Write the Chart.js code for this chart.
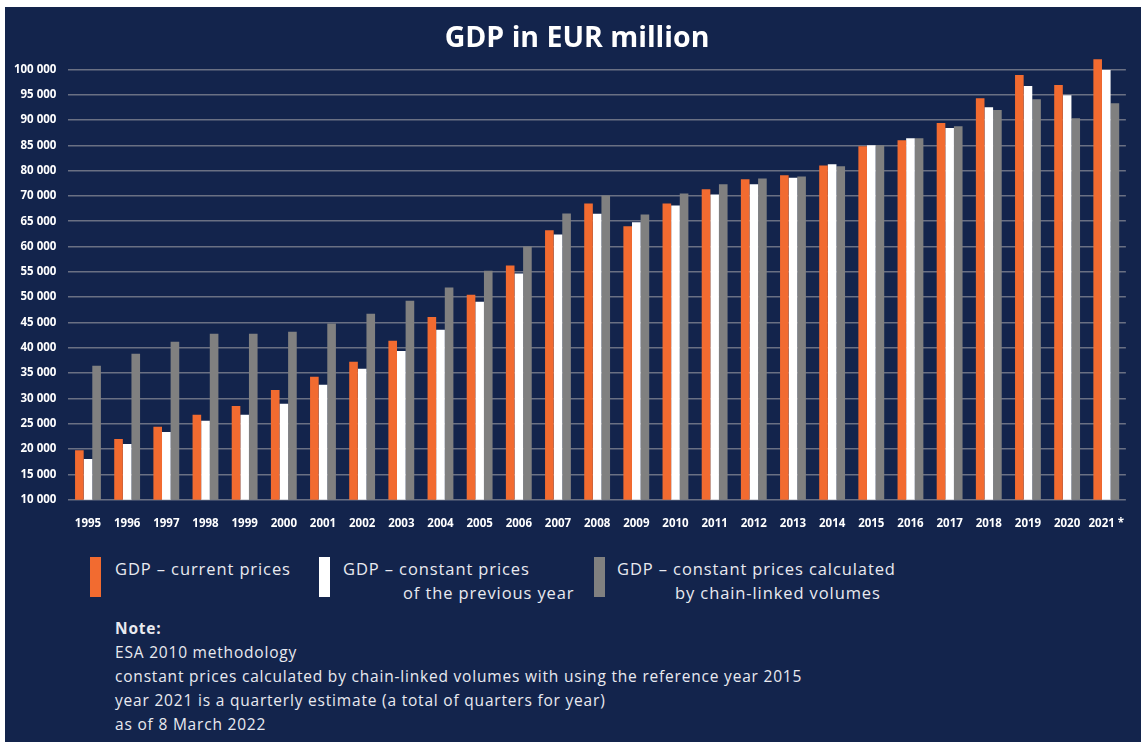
<!DOCTYPE html>
<html>
<head>
<meta charset="utf-8">
<script src="https://cdn.jsdelivr.net/npm/chart.js@4.4.1/dist/chart.umd.min.js"></script>
<style>
  html, body { margin: 0; padding: 0; background: #ffffff; }
  body { width: 1141px; height: 742px; position: relative; overflow: hidden; font-family: "Open Sans", sans-serif; }
  #panel { position: absolute; left: 5px; top: 7px; width: 1136px; height: 735px; background: #13244c; }
  #chartBox { position: absolute; left: 0; top: 0; width: 1136px; height: 548px; }
  #title { position: absolute; left: 572px; top: 12px; transform: translateX(-50%); color: #ffffff; font-size: 28.5px; font-weight: 700; line-height: 34px; white-space: nowrap; }
  .sw { position: absolute; width: 11px; height: 40px; top: 550px; }
  .lg { position: absolute; color: #e9eaf0; font-size: 16.5px; line-height: 20px; letter-spacing: 0.9px; white-space: nowrap; }
  .nt { position: absolute; left: 110px; color: #e9eaf0; font-size: 15.5px; line-height: 20px; letter-spacing: 0.8px; white-space: nowrap; }
</style>
</head>
<body>
<div id="panel">
  <div id="chartBox"><canvas id="c"></canvas></div>
  <div id="title">GDP in EUR million</div>
  <div class="sw" style="left:85px;background:#f26b30"></div>
  <div class="lg" style="left:110px;top:552px">GDP – current prices</div>
  <div class="sw" style="left:314px;background:#ffffff"></div>
  <div class="lg" style="left:338px;top:552px">GDP – constant prices</div>
  <div class="lg" style="left:398px;top:576px">of the previous year</div>
  <div class="sw" style="left:589px;background:#808080"></div>
  <div class="lg" style="left:612px;top:552px">GDP – constant prices calculated</div>
  <div class="lg" style="left:670px;top:576px">by chain-linked volumes</div>
  <div class="nt" style="top:611px;font-weight:700">Note:</div>
  <div class="nt" style="top:635px">ESA 2010 methodology</div>
  <div class="nt" style="top:659px">constant prices calculated by chain-linked volumes with using the reference year 2015</div>
  <div class="nt" style="top:683px">year 2021 is a quarterly estimate (a total of quarters for year)</div>
  <div class="nt" style="top:707px">as of 8 March 2022</div>
</div>
<script>
const years = ['1995','1996','1997','1998','1999','2000','2001','2002','2003','2004','2005','2006','2007','2008','2009','2010','2011','2012','2013','2014','2015','2016','2017','2018','2019','2020','2021 *'];
const gdpCurrent = [19800, 22000, 24400, 26800, 28500, 31700, 34300, 37250, 41400, 46100, 50500, 56250, 63200, 68500, 64000, 68500, 71300, 73300, 74100, 76000, 79800, 81000, 84400, 89300, 93900, 91900, 97000];
const gdpConstPrev = [18050, 21000, 23400, 25600, 26800, 28950, 32700, 35900, 39400, 43600, 49100, 54700, 62400, 66500, 64800, 68100, 70300, 72300, 73600, 76250, 80000, 81400, 83400, 87500, 91700, 89900, 94850];
const gdpChain = [36450, 38850, 41200, 42800, 42800, 43200, 44800, 46750, 49300, 51900, 55250, 60000, 66550, 70100, 66350, 70500, 72300, 73450, 73850, 75850, 80000, 81400, 83750, 86950, 89100, 85350, 88300];
// tick labels as printed on the original axis (gridlines every 5 000 starting at 10 000)
const yTickLabels = ['10 000','15 000','20 000','25 000','30 000','35 000','40 000','45 000','50 000','55 000','60 000','65 000','70 000','80 000','85 000','90 000','95 000','100 000'];
const yTickValues = yTickLabels.map((_, i) => 10000 + 5000 * i);
const seriesNames = ['GDP – current prices', 'GDP – constant prices of the previous year', 'GDP – constant prices calculated by chain-linked volumes'];

const tickFont = { family: '"Open Sans", sans-serif', size: 11.5, weight: '700' };

new Chart(document.getElementById('c'), {
  type: 'bar',
  data: {
    labels: years,
    datasets: [
      { label: seriesNames[0], data: gdpCurrent, backgroundColor: '#f26b30' },
      { label: seriesNames[1], data: gdpConstPrev, backgroundColor: '#ffffff' },
      { label: seriesNames[2], data: gdpChain, backgroundColor: '#808080' }
    ]
  },
  options: {
    responsive: true,
    maintainAspectRatio: false,
    animation: false,
    layout: { padding: { left: 0, right: 12.6, top: 49.65, bottom: 8 } },
    datasets: { bar: { categoryPercentage: 0.66, barPercentage: 1.0, borderWidth: 0 } },
    plugins: {
      legend: { display: false },
      tooltip: { enabled: false },
      title: { display: false }
    },
    scales: {
      x: {
        grid: { display: false, drawTicks: false },
        border: { display: false },
        ticks: { color: '#ffffff', font: tickFont, padding: 16.7, maxRotation: 0, autoSkip: false }
      },
      y: {
        min: 10000,
        max: 97500,
        afterFit: (s) => { s.width = 63.4; },
        afterBuildTicks: (s) => { s.ticks = yTickValues.map(v => ({ value: v })); },
        grid: { color: '#6a7083', lineWidth: 1.5, drawTicks: false },
        border: { display: false },
        ticks: {
          autoSkip: false,
          color: '#ffffff',
          font: tickFont,
          padding: 12,
          callback: (v, i) => yTickLabels[i]
        }
      }
    }
  }
});
</script>
</body>
</html>
